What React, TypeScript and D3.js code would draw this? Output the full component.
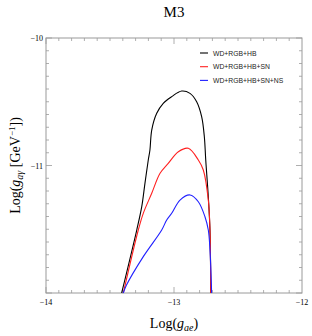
import React from "react";
import * as d3 from "d3";

const title = "M3";
const seriesNames = ["WD+RGB+HB", "WD+RGB+HB+SN", "WD+RGB+HB+SN+NS"];
const seriesColors = ["#000000", "#ff2020", "#2020ff"];
const xTicksMajor = [-14, -13, -12];
const yTicksMajor = [-10, -11];

const blackX = [-13.409, -13.291, -13.252, -13.227, -13.201, -13.188, -13.174, -13.135, -13.084, -13.018, -12.94, -12.875, -12.823, -12.784, -12.763, -12.752, -12.732, -12.719, -12.713];
const blackY = [-12.0, -11.506, -11.323, -11.14, -10.957, -10.878, -10.722, -10.591, -10.512, -10.46, -10.416, -10.434, -10.5, -10.617, -10.774, -10.957, -11.245, -11.506, -12.0];
const redX = [-13.396, -13.279, -13.24, -13.174, -13.109, -13.045, -12.966, -12.888, -12.81, -12.771, -12.732, -12.719, -12.713];
const redY = [-12.0, -11.506, -11.375, -11.218, -11.061, -10.983, -10.892, -10.865, -10.957, -11.035, -11.271, -11.506, -12.0];
const blueX = [-13.396, -13.372, -13.24, -13.096, -13.057, -13.018, -12.953, -12.875, -12.81, -12.758, -12.732, -12.719, -12.706];
const blueY = [-12.0, -11.94, -11.715, -11.506, -11.427, -11.375, -11.271, -11.231, -11.284, -11.402, -11.506, -11.66, -12.0];

const seriesX = [blackX, redX, blueX];
const seriesY = [blackY, redY, blueY];

export default function App() {
  const W = 312, H = 336;
  const L = 46, R = 302, T = 38, B = 293;
  const x = d3.scaleLinear().domain([-14, -12]).range([L, R]);
  const y = d3.scaleLinear().domain([-12, -10]).range([B, T]);
  const line = d3.line<[number, number]>().x(d => x(d[0])).y(d => y(d[1])).curve(d3.curveCatmullRom.alpha(0.5));
  const minorX = d3.range(-14, -12.0001, 0.1);
  const minorY = d3.range(-12, -9.9999, 0.1);
  const frame = "#9a9a9a";
  const serif = "'Liberation Serif', 'DejaVu Serif', serif";
  const sans = "'Liberation Sans', Arial, sans-serif";
  const isMajor = (v: number) => Math.abs(v - Math.round(v)) < 1e-6;
  return (
    <svg width={W} height={H} style={{ position: "absolute", left: 0, top: 0 }}>
      <rect x={0} y={0} width={W} height={H} fill="#fff" />
      <text x={174} y={17} textAnchor="middle" fontFamily={serif} fontSize={15}>{title}</text>
      {minorX.map((v, i) => {
        const len = isMajor(v) ? 6 : 3;
        return (
          <g key={"xt" + i}>
            <line x1={x(v)} x2={x(v)} y1={B} y2={B - len} stroke={frame} strokeWidth={0.8} />
            <line x1={x(v)} x2={x(v)} y1={T} y2={T + len} stroke={frame} strokeWidth={0.8} />
          </g>
        );
      })}
      {minorY.map((v, i) => {
        const len = isMajor(v) ? 6 : 3;
        return (
          <g key={"yt" + i}>
            <line x1={L} x2={L + len} y1={y(v)} y2={y(v)} stroke={frame} strokeWidth={0.8} />
            <line x1={R} x2={R - len} y1={y(v)} y2={y(v)} stroke={frame} strokeWidth={0.8} />
          </g>
        );
      })}
      <rect x={L} y={T} width={R - L} height={B - T} fill="none" stroke={frame} strokeWidth={1} />
      {xTicksMajor.map(v => (
        <text key={"xl" + v} x={x(v)} y={B + 12} textAnchor="middle" fontFamily={serif} fontSize={8}>{"\u2212" + Math.abs(v)}</text>
      ))}
      {yTicksMajor.map(v => (
        <text key={"yl" + v} x={L - 3} y={y(v) + 3} textAnchor="end" fontFamily={serif} fontSize={8}>{"\u2212" + Math.abs(v)}</text>
      ))}
      {seriesX.map((xs, si) => (
        <path key={"s" + si} d={line(xs.map((v, j) => [v, seriesY[si][j]] as [number, number])) || ""} fill="none" stroke={seriesColors[si]} strokeWidth={1.1} />
      ))}
      {seriesNames.map((n, i) => (
        <g key={"lg" + i}>
          <line x1={200} x2={208} y1={53 + i * 13.7} y2={53 + i * 13.7} stroke={seriesColors[i]} strokeWidth={1.1} />
          <text x={213} y={55.5 + i * 13.7} fontFamily={sans} fontSize={6.8} fill="#222">{n}</text>
        </g>
      ))}
      <text x={174} y={328} textAnchor="middle" fontFamily={serif} fontSize={14}>
        Log(<tspan fontStyle="italic">g</tspan><tspan fontStyle="italic" fontSize={10} dy={3}>ae</tspan><tspan dy={-3}>)</tspan>
      </text>
      <text transform={`translate(20,${(T + B) / 2}) rotate(-90)`} textAnchor="middle" fontFamily={serif} fontSize={14}>
        Log(<tspan fontStyle="italic">g</tspan><tspan fontStyle="italic" fontSize={10} dy={3}>{"a\u03b3"}</tspan><tspan dy={-3}> [GeV</tspan><tspan fontSize={9} dy={-5}>{"\u22121"}</tspan><tspan dy={5}>])</tspan>
      </text>
    </svg>
  );
}
